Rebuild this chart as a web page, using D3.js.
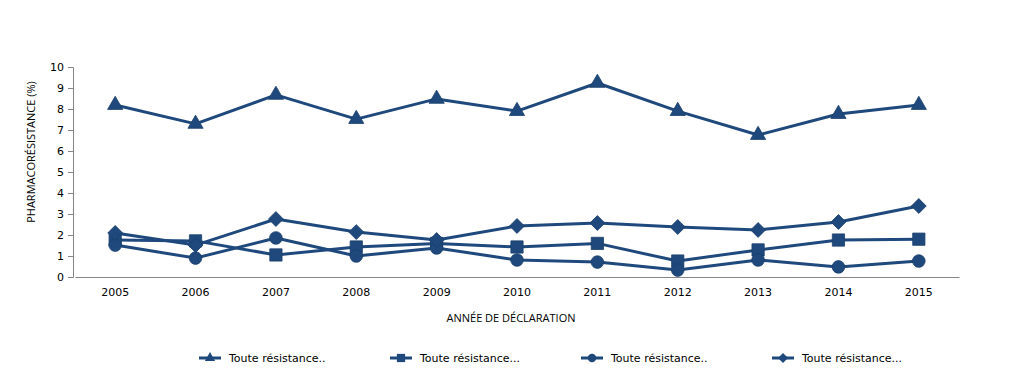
<!DOCTYPE html>
<html lang="fr">
<head>
<meta charset="UTF-8" />
<title>Pharmacorésistance</title>
<script src="https://d3js.org/d3.v7.min.js"></script>
<style>
  body { margin: 0; background: #fff; }
  svg { display: block; }
  text { font-family: "DejaVu Sans", Verdana, sans-serif; fill: #000; }
</style>
</head>
<body>
<svg id="chart" width="1015" height="371"></svg>
<script>
const years = ["2005","2006","2007","2008","2009","2010","2011","2012","2013","2014","2015"];
const yTicks = [0,1,2,3,4,5,6,7,8,9,10];
const seriesNames = ["Toute résistance..", "Toute résistance...", "Toute résistance..", "Toute résistance..."];
const triangleVals = [8.19, 7.29, 8.67, 7.52, 8.48, 7.9, 9.24, 7.9, 6.76, 7.76, 8.19];
const squareVals   = [1.76, 1.72, 1.05, 1.43, 1.6, 1.43, 1.6, 0.76, 1.29, 1.76, 1.8];
const circleVals   = [1.52, 0.9, 1.86, 1.0, 1.38, 0.81, 0.71, 0.33, 0.81, 0.48, 0.76];
const diamondVals  = [2.1, 1.52, 2.76, 2.14, 1.76, 2.43, 2.57, 2.38, 2.24, 2.62, 3.38];

const color = "#1f497d";
const svg = d3.select("#chart");

const x = d3.scaleBand().domain(years).range([75, 959]);
const y = d3.scaleLinear().domain([0, 10]).range([277, 67]);

const series = [
  { name: seriesNames[0], values: triangleVals, symbol: d3.symbolTriangle, size: 100, rot: 0 },
  { name: seriesNames[1], values: squareVals, symbol: d3.symbolSquare, size: 150, rot: 0 },
  { name: seriesNames[2], values: circleVals, symbol: d3.symbolCircle, size: 125, rot: 0 },
  { name: seriesNames[3], values: diamondVals, symbol: d3.symbolSquare, size: 110, rot: 45 }
];

// y axis
const yAxis = svg.append("g")
  .attr("transform", "translate(73,0)")
  .call(d3.axisLeft(y).tickValues(yTicks).tickSize(5).tickPadding(4));
yAxis.select(".domain").attr("stroke", "#868686");
yAxis.selectAll(".tick line").attr("stroke", "#868686");
yAxis.selectAll(".tick text").attr("font-size", 11).attr("font-family", "DejaVu Sans, Verdana, sans-serif");

// x axis
const xAxis = svg.append("g")
  .attr("transform", "translate(0,277)")
  .call(d3.axisBottom(x).tickSize(0).tickPadding(11));
xAxis.select(".domain").attr("stroke", "#868686");
xAxis.selectAll(".tick text").attr("font-size", 11).attr("font-family", "DejaVu Sans, Verdana, sans-serif");

// axis titles
svg.append("text")
  .attr("transform", "translate(35,152) rotate(-90)")
  .attr("text-anchor", "middle")
  .attr("font-size", 11)
  .style("font-family", "'Open Sans', 'Liberation Sans', sans-serif")
  .text("PHARMACORÉSISTANCE  (%)");

svg.append("text")
  .attr("x", 511).attr("y", 322)
  .attr("text-anchor", "middle")
  .attr("font-size", 11)
  .style("font-family", "'Open Sans', 'Liberation Sans', sans-serif")
  .text("ANNÉE  DE  DÉCLARATION");

const line = d3.line()
  .x((d, i) => x(years[i]) + x.bandwidth() / 2)
  .y(d => y(d));

series.forEach(s => {
  svg.append("path")
    .datum(s.values)
    .attr("fill", "none")
    .attr("stroke", color)
    .attr("stroke-width", 3)
    .attr("stroke-linejoin", "round")
    .attr("d", line);
});

series.forEach(s => {
  svg.append("g").selectAll("path")
    .data(s.values)
    .join("path")
    .attr("transform", (d, i) => `translate(${x(years[i]) + x.bandwidth() / 2},${y(d)}) rotate(${s.rot})`)
    .attr("d", d3.symbol().type(s.symbol).size(s.size))
    .attr("fill", color)
    .attr("stroke", "#1a3f6b")
    .attr("stroke-width", 0.8);
});

// legend
const legend = svg.append("g").attr("transform", "translate(0,358)");
series.forEach((s, i) => {
  const lx = 199 + i * 191;
  const g = legend.append("g").attr("transform", `translate(${lx},0)`);
  g.append("line").attr("x1", 0).attr("x2", 22).attr("y1", 0).attr("y2", 0)
    .attr("stroke", color).attr("stroke-width", 3);
  g.append("path").attr("transform", `translate(11,0) rotate(${s.rot})`)
    .attr("d", d3.symbol().type(s.symbol).size(s.size * 0.45))
    .attr("fill", color);
  g.append("text").attr("x", 30).attr("y", 4)
    .attr("font-size", 11)
    .text(s.name);
});
</script>
</body>
</html>
